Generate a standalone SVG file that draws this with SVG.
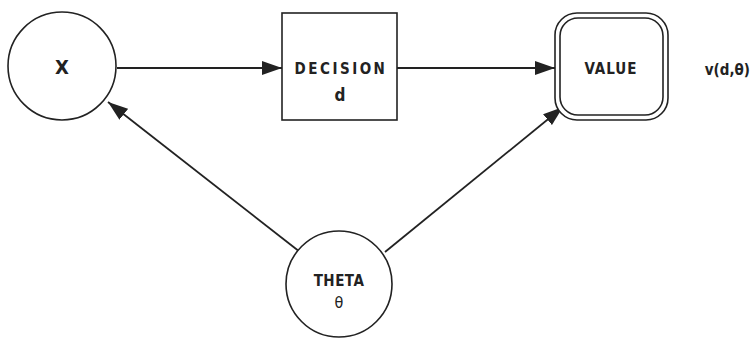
<svg xmlns="http://www.w3.org/2000/svg" width="755" height="341" viewBox="0 0 755 341">
<defs>
<marker id="ah" viewBox="0 0 20 14" refX="20" refY="7" markerWidth="20" markerHeight="14" markerUnits="userSpaceOnUse" orient="auto">
<path d="M0,0 L20,7 L0,14 Z" fill="#222"/>
</marker>
<style>
.shape{fill:#fff;stroke:#222;stroke-width:1.6}
.lbl{font-family:"DejaVu Sans Condensed","DejaVu Sans",sans-serif;font-weight:bold;fill:#222;text-anchor:middle}
.side{font-family:"DejaVu Sans Condensed","DejaVu Sans",sans-serif;font-weight:bold;fill:#222;text-anchor:end;font-size:15px}
.conn{stroke:#222;stroke-width:1.8;fill:none}
</style>
</defs>
<rect width="755" height="341" fill="#fff"/>
<g id="connectors">
<line class="conn" x1="117" y1="68" x2="282" y2="68" marker-end="url(#ah)"/>
<line class="conn" x1="397" y1="68" x2="555" y2="68" marker-end="url(#ah)"/>
<line class="conn" x1="300" y1="252" x2="108" y2="102" marker-end="url(#ah)"/>
<line class="conn" x1="385" y1="252" x2="563" y2="107" marker-end="url(#ah)"/>
</g>
<g id="node-x">
<circle class="shape" cx="62" cy="66" r="54"/>
<text class="lbl" x="62" y="74" style="font-size:20px">X</text>
</g>
<g id="node-decision">
<rect class="shape" x="282" y="13" width="115" height="107"/>
<text class="lbl" x="341" y="74" style="font-size:15px;letter-spacing:2.5px">DECISION</text>
<text class="lbl" x="340" y="101" style="font-size:17px">d</text>
</g>
<g id="node-value">
<rect class="shape" x="555" y="13" width="113" height="107" rx="22"/>
<rect class="shape" x="560" y="18" width="103" height="97" rx="18"/>
<text class="lbl" x="611" y="74" style="font-size:15px;letter-spacing:1px">VALUE</text>
<text class="side" x="750" y="75">v(d,θ)</text>
</g>
<g id="node-theta">
<circle class="shape" cx="339" cy="284" r="53"/>
<text class="lbl" x="339" y="286" style="font-size:15px;letter-spacing:0.5px">THETA</text>
<text class="lbl" x="339" y="308" style="font-size:16px;font-weight:normal">θ</text>
</g>
</svg>
